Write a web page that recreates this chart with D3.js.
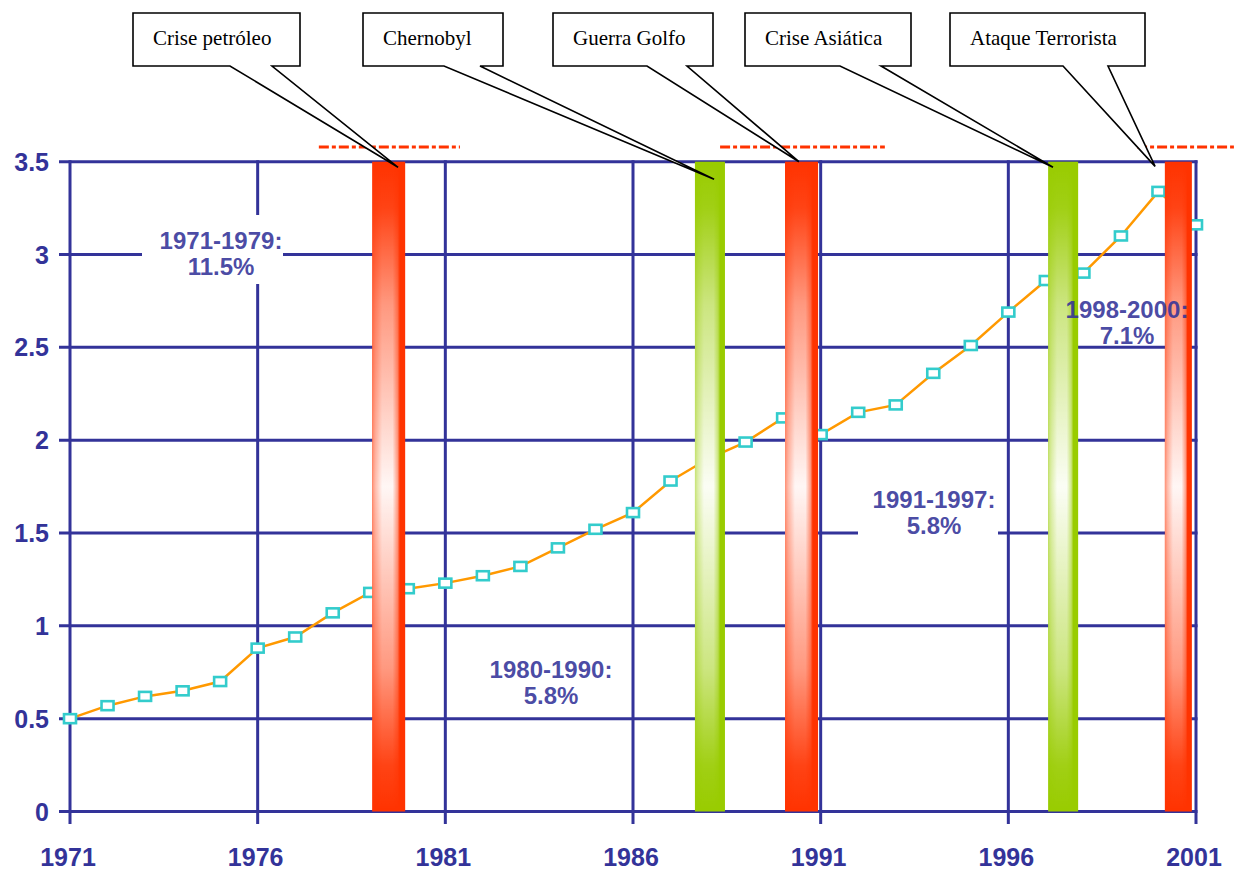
<!DOCTYPE html>
<html>
<head>
<meta charset="utf-8">
<script src="https://cdn.jsdelivr.net/npm/d3@7"></script>
<style>
  body { margin: 0; background: #ffffff; }
  svg { display: block; }
</style>
</head>
<body>
<svg id="chart" width="1239" height="871"></svg>
<script>
// ---- data ---------------------------------------------------------------
const years = [1971, 1972, 1973, 1974, 1975, 1976, 1977, 1978, 1979, 1980,
               1981, 1982, 1983, 1984, 1985, 1986, 1987, 1988, 1989, 1990,
               1991, 1992, 1993, 1994, 1995, 1996, 1997, 1998, 1999, 2000, 2001];
const values = [0.50, 0.57, 0.62, 0.65, 0.70, 0.88, 0.94, 1.07, 1.18, 1.20,
                1.23, 1.27, 1.32, 1.42, 1.52, 1.61, 1.78, 1.90, 1.99, 2.12,
                2.03, 2.15, 2.19, 2.36, 2.51, 2.69, 2.86, 2.90, 3.10, 3.34, 3.16];

const yTicks = [0, 0.5, 1, 1.5, 2, 2.5, 3, 3.5];
const yTickLabels = ["0", "0.5", "1", "1.5", "2", "2.5", "3", "3.5"];
const xTicks = [1971, 1976, 1981, 1986, 1991, 1996, 2001];
const xTickLabels = ["1971", "1976", "1981", "1986", "1991", "1996", "2001"];

// event bands (year span) and their kind
const eventNames = ["Crise petróleo", "Chernobyl", "Guerra Golfo", "Crise Asiática", "Ataque Terrorista"];
const bandStart = [1979.05, 1987.65, 1990.05, 1997.06, 2000.17];
const bandEnd   = [1979.93, 1988.45, 1990.93, 1997.86, 2000.89];
const bandKind  = ["red", "green", "red", "green", "red"];
// where each callout pointer lands (year, value)
const pointerYear  = [1979.74, 1988.16, 1990.42, 1997.19, 1999.91];
const pointerValue = [3.47, 3.405, 3.50, 3.47, 3.475];

// dashed red markers above the crises
const dashStart = [1977.63, 1988.32, 1999.43];
const dashEnd   = [1981.39, 1992.71, 2002.01];

// growth-rate annotations
const periodLabels = ["1971-1979:", "1980-1990:", "1991-1997:", "1998-2000:"];
const rateLabels   = ["11.5%", "5.8%", "5.8%", "7.1%"];

// ---- layout -------------------------------------------------------------
const x = d3.scaleLinear().domain([1971, 2001]).range([70, 1196]);
const y = d3.scaleLinear().domain([0, 3.5]).range([811.5, 161.7]);

const AXIS = "#333399";
const KIND_COLOR = { red: "#ff3300", green: "#99cc00" };

// callout boxes: [left, right] and pointer bases on the box bottom
const calloutBox = [[133, 300], [363, 503], [553, 713], [745, 911], [950, 1145]];
const calloutBase = [[230, 272], [444, 480], [647, 687], [840, 881], [1063, 1108]];
const boxTop = 13, boxBottom = 66;

// label positions: centre x, first baseline, optional white backing box
const labelPos = [
  { cx: 221, by: 249, bg: [142, 215, 283, 284] },
  { cx: 551, by: 678, bg: [486, 650, 616, 712] },
  { cx: 934, by: 508, bg: [858, 486, 998, 544] },
  { cx: 1127, by: 318, bg: null }
];

const svg = d3.select("#chart");
const defs = svg.append("defs");

// vertical fade: strong colour at both ends, pale through the middle
const vfade = defs.append("linearGradient")
  .attr("id", "vfade").attr("x1", 0).attr("y1", 0).attr("x2", 0).attr("y2", 1);
[[0, 0], [0.07, 0.08], [0.22, 0.5], [0.5, 0.96], [0.78, 0.5], [0.93, 0.08], [1, 0]]
  .forEach(([o, a]) => vfade.append("stop").attr("offset", o)
    .attr("stop-color", "#ffffff").attr("stop-opacity", a));

// horizontal profile: soft left edge, bright centre, solid right edge
const hprof = defs.append("linearGradient")
  .attr("id", "hprof").attr("x1", 0).attr("y1", 0).attr("x2", 1).attr("y2", 0);
[[0, "#7a7a7a"], [0.1, "#b4b4b4"], [0.3, "#ffffff"], [0.62, "#ffffff"],
 [0.77, "#909090"], [0.84, "#000000"], [1, "#000000"]]
  .forEach(([o, c]) => hprof.append("stop").attr("offset", o).attr("stop-color", c));

defs.append("mask").attr("id", "bandMask")
  .attr("maskContentUnits", "objectBoundingBox")
  .append("rect").attr("x", 0).attr("y", 0).attr("width", 1).attr("height", 1)
  .attr("fill", "url(#hprof)");

// ---- grid ---------------------------------------------------------------
const grid = svg.append("g").attr("stroke", AXIS).attr("stroke-width", 3);
grid.selectAll("line.h").data(yTicks).join("line")
  .attr("x1", 59).attr("x2", x(2001) + 1.5)
  .attr("y1", d => y(d)).attr("y2", d => y(d));
grid.selectAll("line.v").data(xTicks).join("line")
  .attr("x1", d => x(d)).attr("x2", d => x(d))
  .attr("y1", y(3.5) - 1.5).attr("y2", y(0) + 12.5);

// white backing behind some annotations (interrupts the grid)
svg.append("g").selectAll("rect").data(labelPos.filter(d => d.bg)).join("rect")
  .attr("x", d => d.bg[0]).attr("y", d => d.bg[1])
  .attr("width", d => d.bg[2] - d.bg[0]).attr("height", d => d.bg[3] - d.bg[1])
  .attr("fill", "#ffffff");

// ---- axis labels --------------------------------------------------------
svg.append("g").selectAll("text").data(yTicks).join("text")
  .attr("x", 49).attr("y", d => y(d) + 9)
  .attr("text-anchor", "end")
  .attr("font-family", "'Liberation Sans', Arial, sans-serif")
  .attr("font-weight", "bold").attr("font-size", 25)
  .attr("fill", AXIS)
  .text((d, i) => yTickLabels[i]);

svg.append("g").selectAll("text").data(xTicks).join("text")
  .attr("x", d => x(d) - 2).attr("y", 866)
  .attr("text-anchor", "middle")
  .attr("font-family", "'Liberation Sans', Arial, sans-serif")
  .attr("font-weight", "bold").attr("font-size", 25)
  .attr("fill", AXIS)
  .text((d, i) => xTickLabels[i]);

// ---- series -------------------------------------------------------------
const pts = years.map((yr, i) => [yr, values[i]]);
svg.append("path")
  .datum(pts)
  .attr("fill", "none")
  .attr("stroke", "#ff9900")
  .attr("stroke-width", 2.5)
  .attr("d", d3.line().x(d => x(d[0])).y(d => y(d[1])));

svg.append("g").selectAll("rect").data(pts).join("rect")
  .attr("x", d => x(d[0]) - 6).attr("y", d => y(d[1]) - 4.5)
  .attr("width", 12).attr("height", 9)
  .attr("fill", "#ffffff")
  .attr("stroke", "#33cccc").attr("stroke-width", 2.6);

// ---- event bands --------------------------------------------------------
const bands = svg.append("g");
eventNames.forEach((name, i) => {
  const x0 = x(bandStart[i]), x1 = x(bandEnd[i]);
  const g = bands.append("g");
  g.append("rect")
    .attr("x", x0).attr("y", y(3.5)).attr("width", x1 - x0).attr("height", y(0) - y(3.5))
    .attr("fill", KIND_COLOR[bandKind[i]]);
  g.append("rect")
    .attr("x", x0).attr("y", y(3.5)).attr("width", x1 - x0).attr("height", y(0) - y(3.5))
    .attr("fill", "url(#vfade)")
    .attr("mask", "url(#bandMask)");
});

// ---- dashed red markers -------------------------------------------------
svg.append("g").selectAll("line").data(dashStart).join("line")
  .attr("x1", d => x(d)).attr("x2", (d, i) => x(dashEnd[i]))
  .attr("y1", 147).attr("y2", 147)
  .attr("stroke", "#ff3300").attr("stroke-width", 2.8)
  .attr("stroke-dasharray", "10,3,4,3");

// ---- growth annotations -------------------------------------------------
const ann = svg.append("g")
  .attr("font-family", "'Liberation Sans', Arial, sans-serif")
  .attr("font-weight", "bold").attr("font-size", 24)
  .attr("fill", AXIS).attr("fill-opacity", 0.88)
  .attr("text-anchor", "middle");
labelPos.forEach((p, i) => {
  ann.append("text").attr("x", p.cx).attr("y", p.by).text(periodLabels[i]);
  ann.append("text").attr("x", p.cx).attr("y", p.by + 26).text(rateLabels[i]);
});

// ---- callouts -----------------------------------------------------------
const callouts = svg.append("g");
eventNames.forEach((name, i) => {
  const [l, r] = calloutBox[i];
  const [b1, b2] = calloutBase[i];
  const tx = x(pointerYear[i]), ty = y(pointerValue[i]);
  const path = d3.path();
  path.moveTo(l, boxTop);
  path.lineTo(r, boxTop);
  path.lineTo(r, boxBottom);
  path.lineTo(b2, boxBottom);
  path.lineTo(tx, ty);
  path.lineTo(b1, boxBottom);
  path.lineTo(l, boxBottom);
  path.closePath();
  callouts.append("path")
    .attr("d", path.toString())
    .attr("fill", "#ffffff")
    .attr("stroke", "#000000").attr("stroke-width", 1.6)
    .attr("stroke-linejoin", "miter");
  callouts.append("text")
    .attr("x", l + 20).attr("y", 45)
    .attr("font-family", "'Liberation Serif', 'Times New Roman', serif")
    .attr("font-size", 21)
    .attr("fill", "#000000")
    .text(name);
});
</script>
</body>
</html>
